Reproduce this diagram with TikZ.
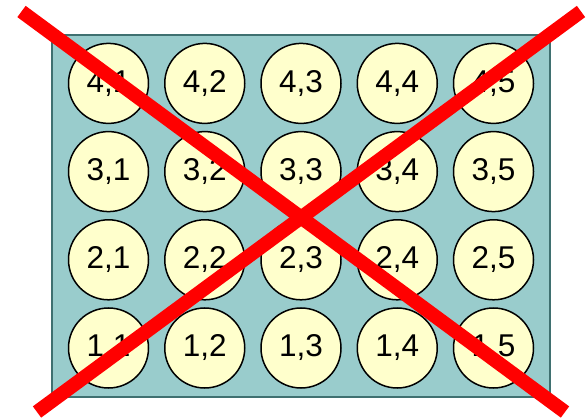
\documentclass[tikz,border=0pt]{standalone}
\usepackage{fontspec}
\setmainfont{Liberation Sans}
\definecolor{platefill}{HTML}{99CCCC}
\definecolor{plateedge}{HTML}{3F7070}
\definecolor{wellfill}{HTML}{FFFFCC}
\definecolor{crossred}{HTML}{FF0000}
\tikzset{
  plate/.style={draw=plateedge, line width=2pt, fill=platefill},
  well/.style={draw, circle, line width=1.5pt, fill=wellfill, minimum size=80pt, inner sep=0pt,
    font=\fontsize{31.5}{36}\selectfont},
  cross/.style={draw=crossred, line width=14pt},
}

\begin{document}
\begin{tikzpicture}[x=1pt, y=-1pt]
    \useasboundingbox (0,0) rectangle (588,419);
    \draw[plate] (52,35) rectangle (550,397);
    % wells, row 1 at the bottom
    \foreach \r in {1,...,4} {
      \foreach \c in {1,...,5} {
        \node[well] (w\r\c) at ({108.5+96.25*(\c-1)}, {348-88.2*(\r-1)}) {\r,\c};
      }
    }
    % the big red X
    \coordinate (xa) at (21.5,11.5);
    \coordinate (xb) at (565,412);
    \coordinate (xc) at (37,412);
    \coordinate (xd) at (581,11.5);
    \draw[cross] (xa) -- (xb);
    \draw[cross] (xc) -- (xd);
  \end{tikzpicture}
\end{document}
